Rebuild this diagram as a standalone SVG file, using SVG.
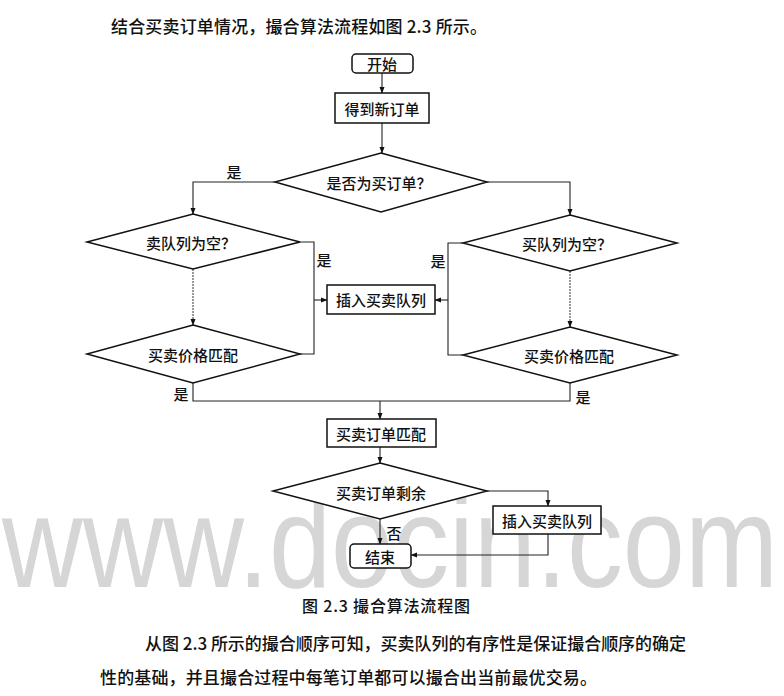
<svg xmlns="http://www.w3.org/2000/svg" width="784" height="696" viewBox="0 0 784 696">
<defs>
<style>
text{font-family:"Noto Sans CJK SC","Liberation Sans",sans-serif;fill:#111;dominant-baseline:central;font-weight:500}
.n{fill:#fff;stroke:#111;stroke-width:1.5}
.t{font-size:15px;text-anchor:middle}
.lb{font-size:15px;text-anchor:middle}
.c{fill:none;stroke:#222;stroke-width:1.1}
.d{fill:none;stroke:#333;stroke-width:1;stroke-dasharray:2 1}
.body{font-size:17px}
.wm{font-family:"Liberation Sans",Arial,sans-serif;fill:#d6d6d6;dominant-baseline:alphabetic;font-weight:normal}
</style>
<marker id="ar" markerWidth="7" markerHeight="6" refX="6" refY="3" orient="auto" markerUnits="userSpaceOnUse">
<path d="M0,0.5 L6.5,3 L0,5.5 Z" fill="#111"/>
</marker>
</defs>
<rect width="784" height="696" fill="#fff"/>
<text class="wm" x="2" y="587" font-size="130" textLength="776" lengthAdjust="spacingAndGlyphs">www.docin.com</text>

<text class="body" x="111" y="25" textLength="376">结合买卖订单情况，撮合算法流程如图 2.3 所示。</text>

<g id="connectors">
<line class="c" x1="382" y1="73" x2="382" y2="93" marker-end="url(#ar)"/>
<line class="c" x1="382" y1="123" x2="382" y2="153" marker-end="url(#ar)"/>
<polyline class="c" points="275,182 193,182 193,214" marker-end="url(#ar)"/>
<polyline class="c" points="487,182 570,182 570,215" marker-end="url(#ar)"/>
<polyline class="c" points="300,242 314,242 314,354 300,354"/>
<line class="c" x1="314" y1="300" x2="327" y2="300" marker-end="url(#ar)"/>
<polyline class="c" points="463,243 448,243 448,355 463,355"/>
<line class="c" x1="448" y1="300" x2="435" y2="300" marker-end="url(#ar)"/>
<line class="d" x1="193" y1="269" x2="193" y2="325" marker-end="url(#ar)"/>
<line class="d" x1="570" y1="271" x2="570" y2="327" marker-end="url(#ar)"/>
<polyline class="c" points="193,383 193,401 570,401 570,383"/>
<line class="c" x1="380" y1="401" x2="380" y2="419" marker-end="url(#ar)"/>
<line class="c" x1="380" y1="447" x2="380" y2="463" marker-end="url(#ar)"/>
<polyline class="c" points="487,491 548,491 548,506" marker-end="url(#ar)"/>
<line class="c" x1="380" y1="519" x2="380" y2="544" marker-end="url(#ar)"/>
<polyline class="c" points="548,534 548,555 411,555" marker-end="url(#ar)"/>
</g>

<g id="labels">
<text class="lb" x="234" y="171">是</text>
<text class="lb" x="324" y="259">是</text>
<text class="lb" x="438" y="260">是</text>
<text class="lb" x="181" y="393">是</text>
<text class="lb" x="583" y="396">是</text>
<text class="lb" x="394" y="532">否</text>
</g>

<g id="start"><rect class="n" x="352" y="54" width="61" height="19" rx="4"/><text class="t" x="382" y="63.5">开始</text></g>
<g id="getOrder"><rect class="n" x="335" y="93" width="94" height="30"/><text class="t" x="382" y="108">得到新订单</text></g>
<g id="isBuy"><polygon class="n" points="381,153 487,182 381,212 275,182"/><text class="t" x="379" y="182">是否为买订单？</text></g>
<g id="sellEmpty"><polygon class="n" points="193,214 300,242 193,269 87,242"/><text class="t" x="191" y="242">卖队列为空？</text></g>
<g id="sellPrice"><polygon class="n" points="193,325 300,354 193,383 87,354"/><text class="t" x="193" y="354">买卖价格匹配</text></g>
<g id="insert1"><rect class="n" x="327" y="285" width="108" height="29"/><text class="t" x="381" y="299.5">插入买卖队列</text></g>
<g id="buyEmpty"><polygon class="n" points="570,215 677,243 570,271 463,243"/><text class="t" x="567" y="243">买队列为空？</text></g>
<g id="buyPrice"><polygon class="n" points="570,327 677,355 570,383 463,355"/><text class="t" x="569" y="355">买卖价格匹配</text></g>
<g id="match"><rect class="n" x="327" y="419" width="109" height="28"/><text class="t" x="381" y="433">买卖订单匹配</text></g>
<g id="remain"><polygon class="n" points="380,463 487,491 380,519 273,491"/><text class="t" x="381" y="492">买卖订单剩余</text></g>
<g id="insert2"><rect class="n" x="493" y="506" width="108" height="28"/><text class="t" x="547" y="520">插入买卖队列</text></g>
<g id="end"><rect class="n" x="350" y="544" width="61" height="24" rx="4"/><text class="t" x="380" y="556">结束</text></g>

<text x="302" y="605" font-size="16" textLength="168">图 2.3 撮合算法流程图</text>
<text class="body" x="145" y="642" textLength="541">从图 2.3 所示的撮合顺序可知，买卖队列的有序性是保证撮合顺序的确定</text>
<text class="body" x="100" y="676" textLength="497">性的基础，并且撮合过程中每笔订单都可以撮合出当前最优交易。</text>
</svg>
